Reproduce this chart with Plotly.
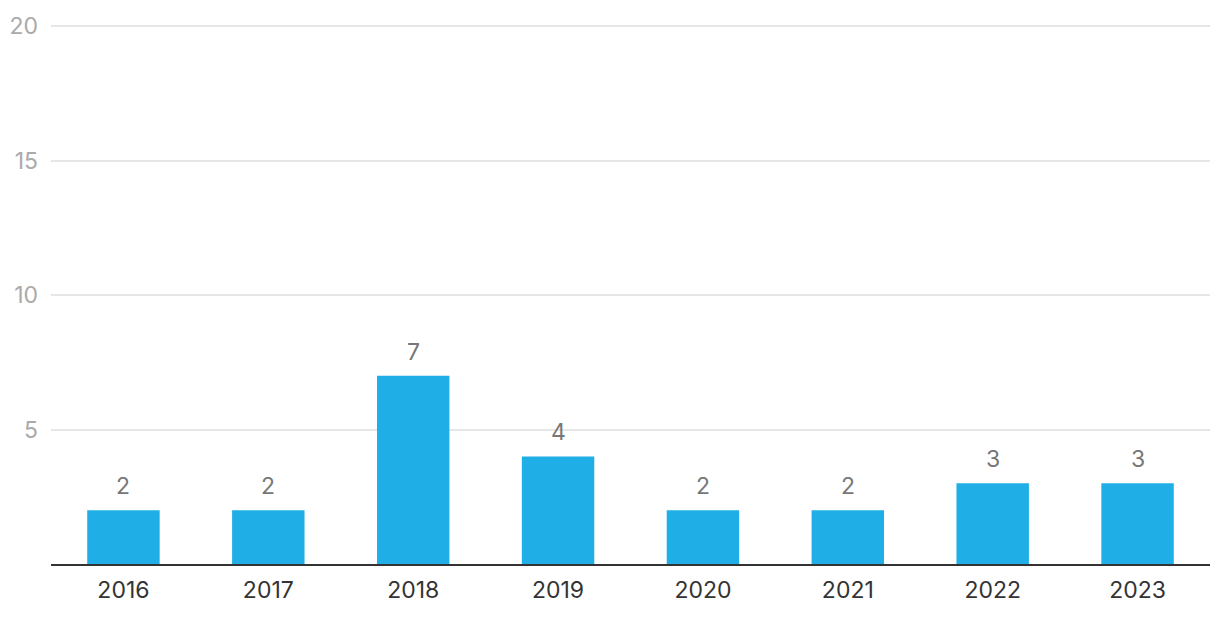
import plotly.graph_objects as go

years = ["2016", "2017", "2018", "2019", "2020", "2021", "2022", "2023"]
counts = [2, 2, 7, 4, 2, 2, 3, 3]
y_ticks = [5, 10, 15, 20]

FONT = "Inter, Roboto, sans-serif"

fig = go.Figure()
fig.add_trace(go.Bar(
    x=years, y=counts, marker=dict(color="#1FAEE5", line=dict(width=0)),
    width=0.5, hoverinfo="x+y",
))

for i, v in enumerate(counts):
    fig.add_annotation(x=i, y=v, text=str(v), showarrow=False, yanchor="bottom",
                       yshift=8, font=dict(family=FONT, size=23, color="#777777"))

fig.update_layout(
    width=1220, height=620,
    margin=dict(l=51, r=10, t=18, b=56),
    plot_bgcolor="white", paper_bgcolor="white",
    showlegend=False,
    font=dict(family=FONT),
    xaxis=dict(
        type="category", range=[-0.5, len(years) - 0.5], showgrid=False, showline=True,
        linecolor="#333333", linewidth=2,
        ticks="", tickfont=dict(size=23, color="#333333"), ticklabelstandoff=4,
    ),
    yaxis=dict(
        range=[0, 20.3], tickvals=y_ticks, ticktext=[str(t) for t in y_ticks],
        showgrid=True, gridcolor="#e6e6e6", gridwidth=1.5, zeroline=False,
        showline=False, ticks="", tickfont=dict(size=23, color="#aaaaaa"),
        ticklabelstandoff=12,
    ),
)

fig.write_html("out.html")
